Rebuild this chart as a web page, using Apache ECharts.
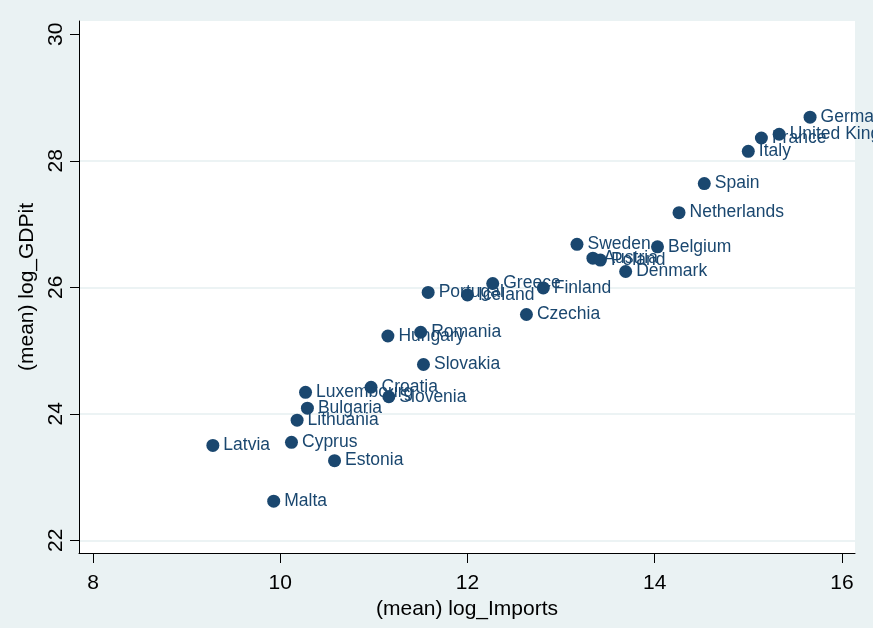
<!DOCTYPE html>
<html>
<head>
<meta charset="utf-8">
<script src="https://cdn.jsdelivr.net/npm/echarts@6/dist/echarts.min.js"></script>
<style>
  body { margin: 0; background: #EAF2F3; }
  #main { width: 873px; height: 628px; }
</style>
</head>
<body>
<div id="main"></div>
<script>
// country means
var countries = ['Austria', 'Belgium', 'Bulgaria', 'Croatia', 'Cyprus', 'Czechia', 'Denmark',
  'Estonia', 'Finland', 'France', 'Germany', 'Greece', 'Hungary', 'Iceland', 'Italy',
  'Latvia', 'Lithuania', 'Luxembourg', 'Malta', 'Netherlands', 'Poland', 'Portugal',
  'Romania', 'Slovakia', 'Slovenia', 'Spain', 'Sweden', 'United Kingdom']
var logImports = [13.34, 14.03, 10.29, 10.97, 10.12, 12.63, 13.69,
  10.58, 12.81, 15.14, 15.66, 12.27, 11.15, 12.00, 15.00,
  9.28, 10.18, 10.27, 9.93, 14.26, 13.42, 11.58,
  11.50, 11.53, 11.16, 14.53, 13.17, 15.33]
var logGDP = [26.46, 26.64, 24.09, 24.42, 23.55, 25.57, 26.25,
  23.26, 25.99, 28.36, 28.69, 26.06, 25.23, 25.88, 28.15,
  23.50, 23.90, 24.34, 22.62, 27.18, 26.43, 25.92,
  25.29, 24.78, 24.27, 27.64, 26.68, 28.42]
var xTicks = [8, 10, 12, 14, 16]
var yTicks = [22, 24, 26, 28, 30]
var yGrid = [22, 24, 26, 28]

var navy = '#1A476F'
var font = 'Arial, "Liberation Sans", sans-serif'

var points = []
for (var i = 0; i < countries.length; i++) {
  points.push([logImports[i], logGDP[i], countries[i]])
}

var chart = echarts.init(document.getElementById('main'))
chart.setOption({
  backgroundColor: '#EAF2F3',
  animation: false,
  textStyle: { fontFamily: font },
  grid: {
    left: 79, top: 21, right: 18, bottom: 75,
    show: true, backgroundColor: '#fff', borderWidth: 0,
    outerBoundsMode: 'none'
  },
  xAxis: {
    type: 'value',
    min: 7.85,
    max: 16.14,
    name: '(mean) log_Imports',
    nameLocation: 'middle',
    nameGap: 42,
    nameTextStyle: { fontSize: 21, color: '#000', fontFamily: font },
    axisLine: { onZero: false, lineStyle: { color: '#000', width: 1 } },
    axisTick: { customValues: xTicks, length: 10, lineStyle: { color: '#000' } },
    axisLabel: { customValues: xTicks, fontSize: 21, color: '#000', margin: 20 },
    splitLine: { show: false }
  },
  yAxis: {
    type: 'value',
    min: 21.8,
    max: 30.21,
    name: '(mean) log_GDPit',
    nameLocation: 'middle',
    nameRotate: 90,
    nameGap: 30,
    nameTextStyle: { fontSize: 21, color: '#000', fontFamily: font },
    axisLine: { onZero: false, lineStyle: { color: '#000', width: 1 } },
    axisTick: { customValues: yTicks, length: 9, lineStyle: { color: '#000' } },
    axisLabel: { customValues: yTicks, rotate: 90, fontSize: 21, color: '#000', margin: 12 },
    splitLine: { show: false }
  },
  series: [
    {
      // horizontal grid lines
      type: 'scatter',
      data: [],
      z: 0,
      silent: true,
      markLine: {
        silent: true,
        z: 0,
        symbol: 'none',
        label: { show: false },
        lineStyle: { color: '#E6EFF1', width: 1.5, type: 'solid' },
        data: yGrid.map(function (v) { return { yAxis: v } })
      }
    },
    {
      type: 'scatter',
      z: 3,
      data: points,
      symbolSize: 13,
      itemStyle: { color: navy, opacity: 1 },
      labelLayout: { hideOverlap: false },
      label: {
        show: true,
        position: 'right',
        distance: 4,
        color: navy,
        opacity: 1,
        fontSize: 17.5,
        fontFamily: font,
        textBorderWidth: 0,
        textBorderColor: 'transparent',
        formatter: function (p) { return p.data[2] }
      }
    }
  ]
})
</script>
</body>
</html>
